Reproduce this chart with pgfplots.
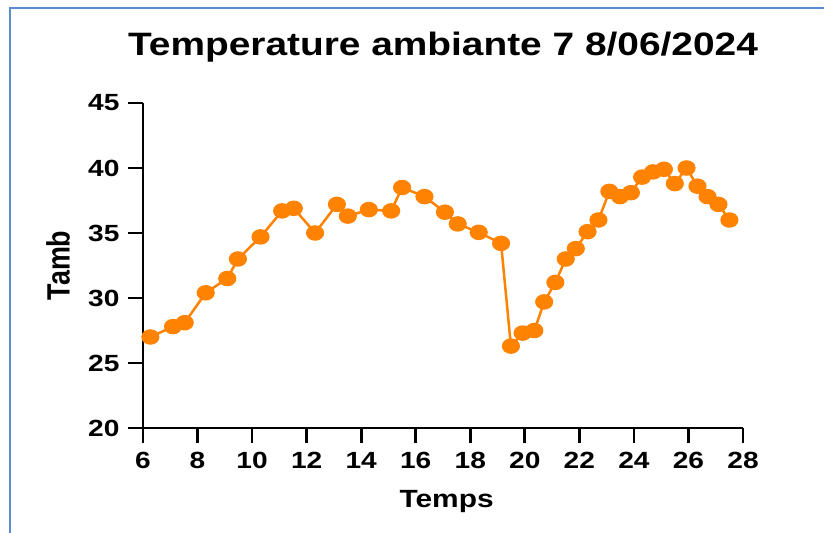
\documentclass[border=0pt]{standalone}
\usepackage{fontspec}
\setmainfont{Liberation Sans}
\usepackage{graphicx}
\usepackage{pgfplots}
\pgfplotsset{compat=1.18}
\definecolor{tempor}{HTML}{FF8200}
\definecolor{frameblue}{HTML}{5B8BD0}
% the source picture is stretched sideways, so text is too
\newcommand{\wide}[1]{\scalebox{1.2}[1]{#1}}

\pgfplotstableread{
t     tamb
6.27  27.0
7.10  27.8
7.53  28.1
8.30  30.4
9.09  31.5
9.48  33.0
10.31 34.7
11.10 36.7
11.53 36.9
12.31 35.0
13.11 37.2
13.51 36.3
14.28 36.8
15.10 36.7
15.50 38.5
16.32 37.8
17.07 36.6
17.54 35.7
18.31 35.05
19.13 34.2
19.49 26.3
19.92 27.3
20.35 27.5
20.71 29.7
21.12 31.2
21.50 33.0
21.87 33.8
22.30 35.1
22.70 36.0
23.10 38.2
23.49 37.8
23.89 38.1
24.30 39.3
24.70 39.7
25.10 39.9
25.50 38.8
25.93 40.0
26.33 38.6
26.70 37.8
27.10 37.2
27.50 36.0
}\tamb

\begin{document}
\begin{tikzpicture}
\useasboundingbox (0,0) rectangle (824bp,533bp);
\draw[frameblue, line width=1.5bp] (10bp,0) -- (10bp,525bp) -- (824bp,525bp);
\begin{axis}[
  at={(143bp,105bp)}, anchor=south west,
  scale only axis, width=600bp, height=325bp,
  xmin=6, xmax=28, ymin=20, ymax=45,
  xtick={6,8,...,28}, ytick={20,25,...,45},
  axis lines=left, axis line style={-, line width=2.8bp},
  tick align=outside, major tick length=15bp,
  tick style={line width=2.8bp, black},
  /pgf/number format/assume math mode=true,
  xticklabel={\wide{\pgfmathprintnumber{\tick}}},
  yticklabel={\wide{\pgfmathprintnumber{\tick}}},
  ticklabel style={font=\fontsize{23.5}{23.5}\selectfont\bfseries},
  xticklabel style={yshift=-6bp},
  yticklabel style={xshift=-5bp},
  title={\wide{Temperature ambiante 7 8/06/2024}},
  title style={at={(axis description cs:0.5,1.129)}, anchor=base,
    font=\fontsize{32.5}{32.5}\selectfont\bfseries},
  xlabel={\wide{Temps}},
  xlabel style={at={(axis description cs:0.506,-0.246)}, anchor=base,
    font=\fontsize{25}{25}\selectfont\bfseries},
  ylabel={Tamb},
  ylabel style={at={(axis description cs:-0.1417,0.5)}, anchor=center,
    font=\fontsize{27}{27}\selectfont\bfseries, yscale=1.2},
  clip=false,
]
\addplot[tempor, line width=2.5bp, mark=*, mark size=6.5bp,
  mark options={xscale=1.2, fill=tempor, draw=tempor}] table[x=t, y=tamb] {\tamb};
\end{axis}
\end{tikzpicture}
\end{document}
